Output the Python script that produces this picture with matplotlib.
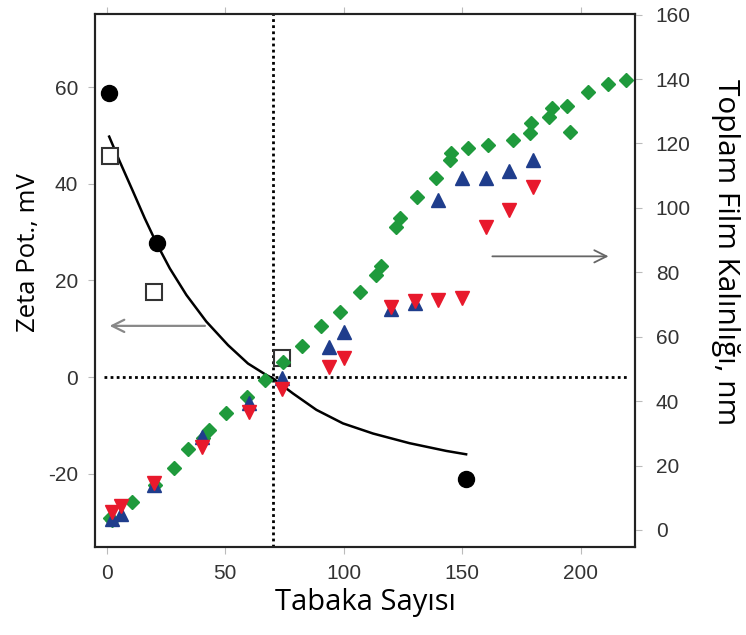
import numpy as np
import matplotlib.pyplot as plt

# Zeta potansiyeli (sol eksen)
zeta_x = [1, 21, 151.5]
zeta_y = [58.8, 27.7, -21.1]
zeta2_x = [1.4, 19.8, 74]
zeta2_y = [45.8, 17.6, 3.9]

# Uyum egrisi (sol eksen)
fit_x = [1.0, 5.5, 11.1, 16, 21, 26.6, 33.6, 42, 51.2, 59.6, 67.4, 70.2,
         78.6, 88.5, 99.7, 112.4, 127.8, 143.3, 151.7]
fit_y = [49.8, 44.6, 38.4, 32.9, 27.7, 22.5, 17.0, 11.5, 6.6, 2.8, 0.4, -0.3,
         -3.4, -6.8, -9.6, -11.7, -13.7, -15.3, -16.0]

# Toplam film kalinligi (sag eksen)
green_x = [1.3, 2, 10.5, 20.3, 28.5, 34.2, 40.5, 43, 50.5, 59, 66.7, 74.3, 82.2, 90.6,
           98.5, 106.8, 113.8, 115.8, 122.3, 123.6, 131, 139, 144.7, 145.5, 152.3,
           160.8, 171.3, 178.5, 179.3, 186.9, 187.8, 194.5, 195.4, 203, 211.4, 219.4]
green_y = [3.7, 3.1, 8.7, 14, 19.2, 25, 28.6, 31, 36.4, 41.3, 46.6, 52.2, 57, 63.3,
           67.7, 74, 79.2, 82, 94, 96.9, 103.4, 109.4, 115, 117, 118.6,
           119.6, 121.1, 123.3, 126.4, 128.3, 131, 131.7, 123.6, 136, 138.5, 139.8]

blue_x = [2, 6, 20, 40, 60, 74, 94, 100, 120, 130, 140, 150, 160, 170, 180]
blue_y = [3.5, 5, 14, 29, 39.4, 47.2, 56.8, 61.5, 68.5, 70.5, 102.5, 109.3, 109.3, 111.5, 114.9]
red_x = [2, 6, 20, 40, 60, 74, 94, 100, 120, 130, 140, 150, 160, 170, 180]
red_y = [5.5, 7.5, 14.6, 25.8, 36.6, 43.8, 50.7, 53.4, 69.3, 71.2, 71.4, 72, 94.1, 99.4, 106.5]

x_ticks = [0, 50, 100, 150, 200]
left_ticks = [-20, 0, 20, 40, 60]
right_ticks = [0, 20, 40, 60, 80, 100, 120, 140, 160]

tick_color = '#333333'
label_font = ['Open Sans', 'DejaVu Sans']
plt.rcParams['font.family'] = ['Liberation Sans', 'DejaVu Sans']
plt.rcParams['axes.unicode_minus'] = False

fig = plt.figure(figsize=(7.46, 6.35), dpi=100)
ax = fig.add_axes([0.1273, 0.1386, 0.7239, 0.8394])
ax2 = ax.twinx()

ax.set_xlim(-5, 223)
ax.set_ylim(-35.2, 75.2)
ax2.set_ylim(-5.3, 160.2)

# kesikli referans cizgileri
ax.axvline(70, color='black', ls=(0, (1, 1.2)), lw=2, zorder=1)
ax.plot([-1, 220], [0, 0], color='black', ls=(0, (1, 1.2)), lw=2, zorder=1)

ax.plot(fit_x, fit_y, color='black', lw=1.8, zorder=3, solid_joinstyle='round')
ax.plot(zeta_x, zeta_y, 'o', color='black', ms=11.5, zorder=4)
ax.plot(zeta2_x, zeta2_y, 's', mfc='white', mec='#333333', mew=1.5, ms=11, zorder=4)

ax2.plot(green_x, green_y, 'D', color='#1f9a3c', ms=7.5, zorder=3)
ax2.plot(blue_x, blue_y, '^', color='#1f3d8c', ms=10, zorder=4)
ax2.plot(red_x, red_y, 'v', color='#e8192c', ms=10, zorder=4)

# oklar
ax.annotate('', xy=(0, 10.6), xytext=(42.6, 10.6),
            arrowprops=dict(arrowstyle='->', color='#888888', lw=1.6,
                            mutation_scale=22))
ax.annotate('', xy=(213, 25), xytext=(161.6, 25),
            arrowprops=dict(arrowstyle='->', color='#666666', lw=1.3,
                            mutation_scale=22))

ax.set_xticks(x_ticks)
ax.set_yticks(left_ticks)
ax2.set_yticks(right_ticks)
ax.tick_params(axis='both', direction='out', length=5, color='#bbbbbb',
               labelcolor=tick_color, labelsize=15, top=True, pad=7)
ax2.tick_params(axis='y', direction='out', length=5, color='#bbbbbb',
                labelcolor=tick_color, labelsize=15, pad=10)

for a in (ax, ax2):
    for s in a.spines.values():
        s.set_color('#222222')
        s.set_linewidth(1.5)

ax.set_xlabel('Tabaka Sayısı', fontsize=21, family=label_font, labelpad=4)
ax.set_ylabel('Zeta Pot., mV', fontsize=18.5, family=label_font)
ax.yaxis.set_label_coords(-0.10, 0.553)
ax2.set_ylabel('Toplam Film Kalınlığı, nm', fontsize=21.5, family=label_font,
               rotation=-90, va='center')
ax2.yaxis.set_label_coords(1.167, 0.553)

fig.savefig('out.png', dpi=100)
